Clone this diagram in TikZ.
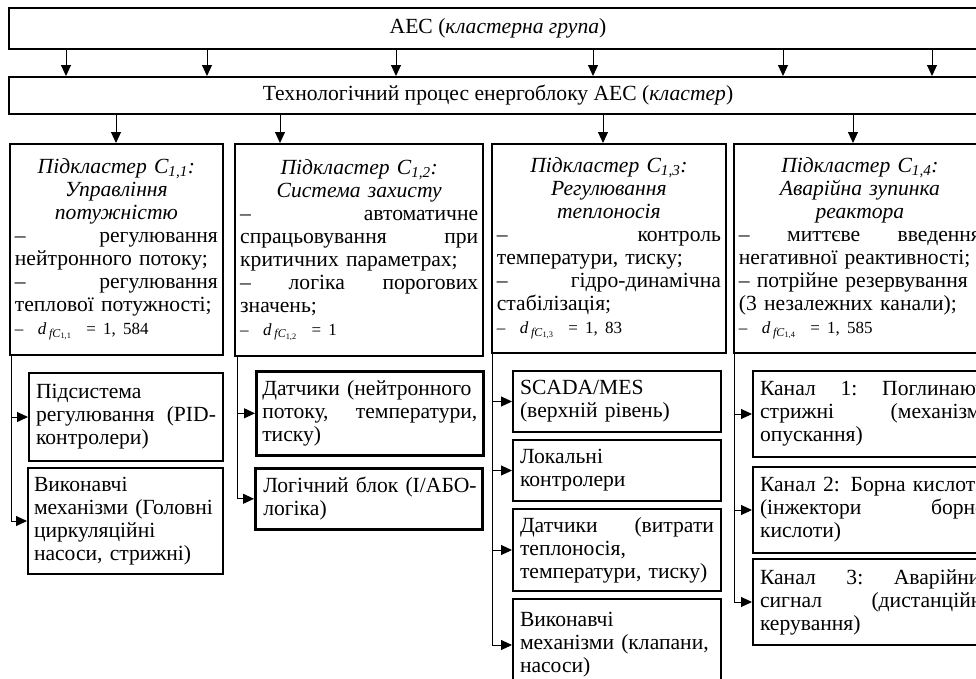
\documentclass[tikz,border=0pt]{standalone}
\usepackage{fontspec}
\setmainfont{Liberation Serif}
\usetikzlibrary{arrows.meta}

\newcommand\gap{\hskip 0pt plus 1filll}
\newcommand\ctitle[1]{\gap\textit{#1}\gap\null}
\newcommand\dfc[2]{{\fontsize{17}{19}\selectfont –\ \ \textit{d}\,\textsubscript{\textit{fC}\textsubscript{1,#1}}\ \ = #2}}

\tikzset{
	bigbox/.style={draw, line width=2pt, anchor=north west, minimum height=#1, font=\fontsize{21.6}{23}\selectfont},
	clbox/.style={draw, line width=1.8pt, anchor=north west, inner xsep=5pt, inner ysep=0pt, align=left, font=\fontsize{21.6}{23}\selectfont},
	leaf/.style={clbox, line width=2pt, inner xsep=7pt},
	arr/.style={line width=1pt, -{Triangle[length=11pt,width=10pt]}}
}

\begin{document}
\begin{tikzpicture}[x=1pt, y=-1pt]
\useasboundingbox[fill=white] (0,0) rectangle (976,678);
\clip (0,0) rectangle (976,678);

% cluster group and cluster
\node[bigbox=41pt, minimum width=978pt] (aes) at (8,7) {АЕС (\textit{кластерна група})};
\node[bigbox=37pt, minimum width=978pt] (proc) at (8,76) {Технологічний процес енергоблоку АЕС (\textit{кластер})};

\foreach \x in {66, 207, 396, 593, 783, 932}
{
	\coordinate (t) at (\x,0);
	\draw[arr] (aes.south -| t) -- (proc.north -| t);
}

% subclusters
\node[clbox, text width=203pt, minimum height=211pt] (c11) at (9,143) {%
\ctitle{Підкластер C\textsubscript{1,1}:}\\
\ctitle{Управління}\\
\ctitle{потужністю}\\
–\gap регулювання\\
нейтронного потоку;\\
–\gap регулювання\\
теплової потужності;\\
\dfc{1}{1, 584}};
\node[clbox, text width=238pt, minimum height=212pt, line width=2.4pt] (c12) at (234,143) {%
\ctitle{Підкластер C\textsubscript{1,2}:}\\
\ctitle{Система захисту}\\
–\gap автоматичне\\
спрацьовування\gap при\\
критичних параметрах;\\
–\gap логіка\gap порогових\\
значень;\\
\dfc{2}{1}};
\node[clbox, text width=224pt, minimum height=209pt] (c13) at (491,143) {%
\ctitle{Підкластер C\textsubscript{1,3}:}\\
\ctitle{Регулювання}\\
\ctitle{теплоносія}\\
–\gap контроль\\
температури, тиску;\\
–\gap гідро-динамічна\\
стабілізація;\\
\dfc{3}{1, 83}};
\node[clbox, text width=242pt, minimum height=209pt] (c14) at (733,143) {%
\ctitle{Підкластер C\textsubscript{1,4}:}\hspace*{52pt}\\
\ctitle{Аварійна зупинка}\hspace*{52pt}\\
\ctitle{реактора}\hspace*{52pt}\\
–\gap миттєве\gap введення\\
негативної реактивності;\\
– потрійне резервування\\
(3 незалежних канали);\\
\dfc{4}{1, 585}};

\coordinate (s1) at (116,0);
\coordinate (s2) at (280,0);
\coordinate (s3) at (603,0);
\coordinate (s4) at (853,0);
\foreach \i in {1,...,4}
	\draw[arr] (proc.south -| s\i) -- (c1\i.north -| s\i);

% subsystems
\node[leaf, text width=180pt, minimum height=88pt] (b11) at (28,372) {Підсистема\\ регулювання\gap (PID-\\ контролери)};
\node[leaf, text width=183pt, minimum height=106pt, inner xsep=6pt] (b12) at (27,467) {Виконавчі\\ механізми (Головні\\ циркуляційні\\ насоси, стрижні)};

\node[leaf, text width=215pt, minimum height=84pt, line width=2.6pt, inner xsep=6pt] (b21) at (255,370) {Датчики (нейтронного\\ потоку,\gap температури,\\ тиску)};
\node[leaf, text width=219pt, minimum height=61pt, line width=2.6pt, inner xsep=4pt] (b22) at (254,467) {\hspace*{4pt}Логічний блок (І/АБО-\\ \hspace*{4pt}логіка)};

\node[leaf, text width=194pt, minimum height=61pt] (b31) at (512,370) {SCADA/MES\\ (верхній рівень)};
\node[leaf, text width=194pt, minimum height=61pt] (b32) at (512,439) {Локальні\\ контролери};
\node[leaf, text width=194pt, minimum height=82pt] (b33) at (512,508) {Датчики\gap (витрати\\ теплоносія,\\ температури, тиску)};
\node[leaf, text width=194pt, minimum height=92pt] (b34) at (512,598) {Виконавчі\\ механізми (клапани,\\ насоси)};

\node[leaf, text width=232pt, minimum height=86pt] (b41) at (752,370) {Канал\gap 1:\gap Поглинаючі\\ стрижні\gap (механізми\\ опускання)};
\node[leaf, text width=232pt, minimum height=86pt] (b42) at (752,466) {Канал 2: Борна кислота\\ (інжектори\gap борної\\ кислоти)};
\node[leaf, text width=232pt, minimum height=86pt] (b43) at (752,558) {Канал\gap 3:\gap Аварійний\\ сигнал\gap (дистанційне\\ керування)};

\foreach \n in {b11, b12}
	\draw[arr] ([xshift=2pt]c11.south west) |- (\n.west);
\foreach \n in {b21, b22}
	\draw[arr] ([xshift=3pt]c12.south west) |- (\n.west);
\foreach \n in {b31, b32, b33, b34}
	\draw[arr] ([xshift=1pt]c13.south west) |- (\n.west);
\foreach \n in {b41, b42, b43}
	\draw[arr] ([xshift=1pt]c14.south west) |- (\n.west);

\end{tikzpicture}
\end{document}
